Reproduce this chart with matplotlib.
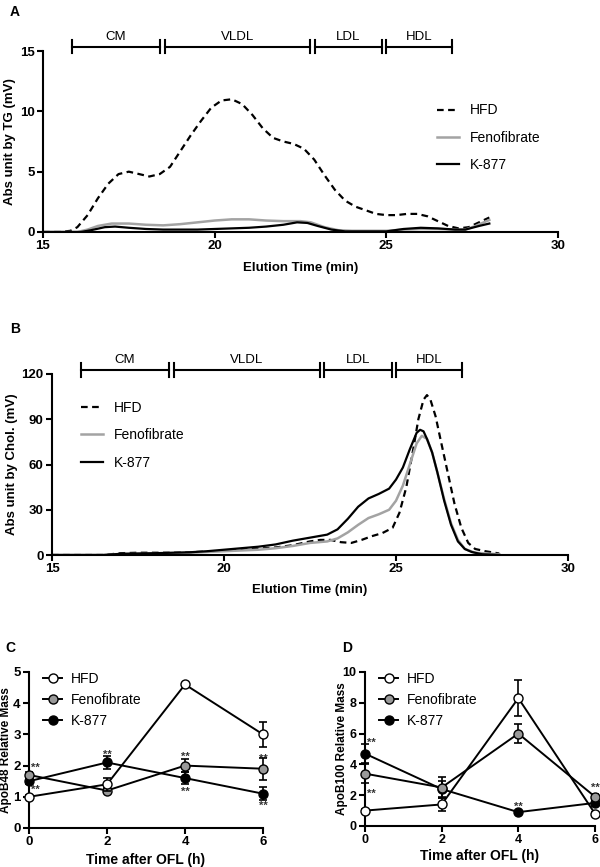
import numpy as np
import matplotlib
matplotlib.use('Agg')
import matplotlib.pyplot as plt

plt.rcParams['font.family'] = ['Liberation Sans', 'DejaVu Sans']
plt.rcParams['axes.linewidth'] = 1.5
plt.rcParams['xtick.major.width'] = 1.5
plt.rcParams['ytick.major.width'] = 1.5
plt.rcParams['xtick.major.size'] = 4
plt.rcParams['ytick.major.size'] = 4

GRAY = '#a3a3a3'

# ============================================================
# DATA - panel A (TG profile)
# ============================================================
a_hfd_t = [15.0, 15.5, 15.8, 16.0, 16.3, 16.6, 16.9, 17.2, 17.5, 17.8, 18.1, 18.4, 18.7,
           19.0, 19.3, 19.6, 19.9, 20.2, 20.5, 20.8, 21.1, 21.4, 21.7, 22.0, 22.3, 22.6,
           22.9, 23.2, 23.5, 23.8, 24.1, 24.4, 24.7, 25.0, 25.3, 25.6, 25.9, 26.2, 26.5,
           26.8, 27.1, 27.4, 27.7, 28.0]
a_hfd_v = [0, 0, 0.1, 0.4, 1.4, 2.8, 4.0, 4.8, 5.0, 4.8, 4.6, 4.8, 5.4,
           6.7, 8.0, 9.2, 10.3, 10.9, 11.0, 10.6, 9.7, 8.6, 7.8, 7.5, 7.3, 6.9,
           6.0, 4.7, 3.5, 2.6, 2.1, 1.8, 1.5, 1.4, 1.4, 1.5, 1.5, 1.3, 0.9,
           0.5, 0.3, 0.4, 0.8, 1.2]
a_feno_t = [15.0, 16.0, 16.3, 16.6, 17.0, 17.5, 18.0, 18.5, 19.0, 19.5, 20.0, 20.5, 21.0,
            21.5, 22.0, 22.5, 22.8, 23.2, 23.6, 24.0, 24.5, 25.0, 25.5, 26.0, 26.5, 27.0,
            27.3, 27.6, 28.0]
a_feno_v = [0, 0, 0.2, 0.5, 0.7, 0.7, 0.6, 0.55, 0.65, 0.8, 0.95, 1.05, 1.05,
            0.95, 0.9, 0.9, 0.8, 0.4, 0.15, 0.1, 0.1, 0.1, 0.2, 0.25, 0.25, 0.2,
            0.2, 0.5, 1.0]
a_k877_t = [15.0, 16.1, 16.4, 16.8, 17.1, 17.5, 18.0, 18.5, 19.0, 19.5, 20.0, 20.5, 21.0,
            21.5, 22.0, 22.4, 22.7, 23.0, 23.4, 23.8, 24.5, 25.0, 25.5, 26.0, 26.5, 27.0,
            27.3, 27.7, 28.0]
a_k877_v = [0, 0, 0.15, 0.4, 0.45, 0.35, 0.25, 0.2, 0.2, 0.2, 0.25, 0.3, 0.35,
            0.45, 0.6, 0.8, 0.75, 0.5, 0.2, 0.05, 0.05, 0.05, 0.25, 0.35, 0.3, 0.2,
            0.2, 0.5, 0.7]

# ============================================================
# DATA - panel B (cholesterol profile)
# ============================================================
b_hfd_t = [15.0, 16.5, 17.0, 17.5, 18.0, 18.5, 19.0, 19.5, 20.0, 20.5, 21.0, 21.5, 22.0,
           22.5, 22.8, 23.1, 23.4, 23.7, 24.0, 24.3, 24.6, 24.9, 25.1, 25.3, 25.5, 25.65,
           25.8, 25.9, 26.0, 26.15, 26.3, 26.5, 26.7, 26.9, 27.1, 27.3, 27.6, 28.0]
b_hfd_v = [0, 0, 1.2, 1.5, 1.5, 1.5, 1.8, 2.3, 3.0, 3.5, 4.2, 5.0, 6.5,
           9.0, 10.0, 10.0, 8.5, 8.0, 10.0, 12.5, 14.5, 18.0, 28, 45, 70, 90,
           103, 106, 103, 92, 76, 55, 34, 18, 8, 4, 2.5, 1.0]
b_feno_t = [15.0, 16.5, 17.0, 18.0, 19.0, 20.0, 21.0, 21.5, 22.0, 22.5, 23.0, 23.3, 23.6,
            23.9, 24.2, 24.5, 24.8, 25.0, 25.2, 25.4, 25.6, 25.75, 25.9, 26.05, 26.2, 26.4,
            26.6, 26.8, 27.0, 27.3, 27.6, 28.0]
b_feno_v = [0, 0, 0.6, 1.0, 1.5, 2.5, 3.5, 4.5, 6.0, 8.0, 9.0, 11, 15,
            20, 24.5, 27, 30, 36, 46, 60, 74, 79, 77, 68, 55, 37,
            21, 10, 4, 1.5, 1, 0.5]
b_k877_t = [15.0, 16.5, 17.0, 18.0, 19.0, 19.5, 20.0, 20.5, 21.0, 21.5, 22.0, 22.5, 23.0,
            23.3, 23.6, 23.9, 24.2, 24.5, 24.8, 25.0, 25.2, 25.4, 25.6, 25.7, 25.8, 25.9,
            26.05, 26.2, 26.4, 26.6, 26.8, 27.0, 27.2, 27.5, 28.0]
b_k877_v = [0, 0, 0.8, 1.2, 1.8, 2.5, 3.5, 4.5, 5.5, 7.0, 9.5, 11.5, 13.5,
            17, 24, 32, 37.5, 40.5, 44, 50, 58, 70, 81, 83, 82, 77,
            68, 55, 36, 20, 9, 4, 2, 0.5, 0]

fractions = ['CM', 'VLDL', 'LDL', 'HDL']
frac_start = [15.85, 18.55, 22.92, 25.0]
frac_end = [18.4, 22.78, 24.87, 26.92]

# ============================================================
# DATA - panels C and D (apoB48 / apoB100)
# ============================================================
hours = [0, 2, 4, 6]
c_hfd = [1.0, 1.4, 4.6, 3.0]
c_hfd_err = [0.05, 0.2, 0.05, 0.4]
c_feno = [1.7, 1.2, 2.0, 1.9]
c_feno_err = [0.1, 0.08, 0.2, 0.35]
c_k877 = [1.5, 2.1, 1.6, 1.1]
c_k877_err = [0.1, 0.2, 0.2, 0.2]
c_stars_x = [0.17, 0.17, 2, 4, 4, 6, 6]
c_stars_y = [1.93, 1.22, 2.36, 2.28, 1.15, 2.23, 0.72]

d_hfd = [1.0, 1.4, 8.3, 0.8]
d_hfd_err = [0.1, 0.4, 1.15, 0.1]
d_feno = [3.4, 2.5, 6.0, 1.9]
d_feno_err = [0.6, 0.7, 0.6, 0.2]
d_k877 = [4.7, 2.4, 0.9, 1.5]
d_k877_err = [0.6, 0.5, 0.1, 0.2]
d_stars_x = [0.17, 0.17, 4, 6]
d_stars_y = [5.4, 2.1, 1.25, 2.45]

# ============================================================
# FIGURE
# ============================================================
W, H = 600, 867
fig = plt.figure(figsize=(W / 100, H / 100), dpi=100)


def px_axes(l, r, t, b):
    return fig.add_axes([l / W, 1 - b / H, (r - l) / W, (b - t) / H])


def style(ax, fs):
    ax.spines['top'].set_visible(False)
    ax.spines['right'].set_visible(False)
    ax.tick_params(direction='out', labelsize=fs, pad=2)
    for lab in ax.get_xticklabels() + ax.get_yticklabels():
        lab.set_fontweight('bold')


def brackets(ax, ybar, half, gap):
    for name, s, e in zip(fractions, frac_start, frac_end):
        ax.plot([s, e], [ybar, ybar], color='black', lw=1.5, clip_on=False)
        ax.plot([s, s], [ybar - half, ybar + half], color='black', lw=1.5, clip_on=False)
        ax.plot([e, e], [ybar - half, ybar + half], color='black', lw=1.5, clip_on=False)
        ax.text((s + e) / 2, ybar + gap, name, ha='center', va='bottom', fontsize=9.5)


# ---------------- A ----------------
axA = px_axes(43, 558, 51, 232)
axA.plot(a_hfd_t, a_hfd_v, color='black', lw=1.6, ls=(0, (3, 2)), label='HFD')
axA.plot(a_feno_t, a_feno_v, color=GRAY, lw=1.8, label='Fenofibrate')
axA.plot(a_k877_t, a_k877_v, color='black', lw=1.6, label='K-877')
axA.set_xlim(15, 30)
axA.set_ylim(0, 15)
axA.set_xticks([15, 20, 25, 30])
axA.set_yticks([0, 5, 10, 15])
axA.set_xlabel('Elution Time (min)', fontsize=9.5, fontweight='bold')
axA.set_ylabel('Abs unit by TG (mV)', fontsize=9.5, fontweight='bold')
axA.yaxis.set_label_coords(-0.052, 0.5)
axA.xaxis.set_label_coords(0.5, -0.166)
style(axA, 9.5)
brackets(axA, 15.35, 0.55, 0.35)
axA.legend(loc='upper left', bbox_to_anchor=(0.765, 0.71), frameon=False, fontsize=10,
           handlelength=1.6, labelspacing=0.95, borderaxespad=0, borderpad=0, handletextpad=0.8)

# ---------------- B ----------------
axB = px_axes(52, 568, 374, 555)
axB.plot(b_hfd_t, b_hfd_v, color='black', lw=1.6, ls=(0, (3, 2)), label='HFD')
axB.plot(b_feno_t, b_feno_v, color=GRAY, lw=1.8, label='Fenofibrate')
axB.plot(b_k877_t, b_k877_v, color='black', lw=1.6, label='K-877')
axB.set_xlim(15, 30)
axB.set_ylim(0, 120)
axB.set_xticks([15, 20, 25, 30])
axB.set_yticks([0, 30, 60, 90, 120])
axB.set_xlabel('Elution Time (min)', fontsize=9.5, fontweight='bold')
axB.set_ylabel('Abs unit by Chol. (mV)', fontsize=9.5, fontweight='bold')
axB.yaxis.set_label_coords(-0.066, 0.5)
axB.xaxis.set_label_coords(0.5, -0.16)
style(axB, 9.5)
brackets(axB, 122.5, 4.5, 2.8)
axB.legend(loc='upper left', bbox_to_anchor=(0.056, 0.85), frameon=False, fontsize=10,
           handlelength=1.6, labelspacing=0.95, borderaxespad=0, borderpad=0, handletextpad=0.8)


# ---------------- C / D ----------------
def apo_panel(ax, hfd, hfd_e, feno, feno_e, k877, k877_e, sx, sy):
    for vals, err, fc, lab, z in [(hfd, hfd_e, 'white', 'HFD', 5),
                                  (feno, feno_e, '#999999', 'Fenofibrate', 4),
                                  (k877, k877_e, 'black', 'K-877', 3)]:
        ax.errorbar(hours, vals, yerr=err, fmt='none', ecolor='black', capsize=3,
                    elinewidth=1.2, capthick=1.2, zorder=z - 0.5, clip_on=False)
        ax.plot(hours, vals, color='black', lw=1.4, marker='o', ms=6.5,
                mfc=fc, mec='black', mew=1.0, label=lab, zorder=z, clip_on=False)
    for x, y in zip(sx, sy):
        ax.text(x, y, '**', ha='center', va='center', fontsize=8, color='#333333',
                fontweight='bold', clip_on=False)
    ax.set_xlim(0, 6)
    ax.set_xticks(hours)
    ax.set_xlabel('Time after OFL (h)', fontsize=10, fontweight='bold')
    ax.legend(loc='upper left', bbox_to_anchor=(0.06, 1.0), frameon=False, fontsize=10,
              handlelength=1.4, labelspacing=0.5, borderaxespad=0, borderpad=0,
              handletextpad=0.6)


axC = px_axes(29, 263, 672, 828)
apo_panel(axC, c_hfd, c_hfd_err, c_feno, c_feno_err, c_k877, c_k877_err, c_stars_x, c_stars_y)
axC.set_ylim(0, 5)
axC.set_yticks([0, 1, 2, 3, 4, 5])
axC.set_ylabel('ApoB48 Relative Mass', fontsize=8.5, fontweight='bold')
axC.yaxis.set_label_coords(-0.072, 0.5)
axC.xaxis.set_label_coords(0.5, -0.16)
style(axC, 9.5)

axD = px_axes(365, 595, 672, 826)
apo_panel(axD, d_hfd, d_hfd_err, d_feno, d_feno_err, d_k877, d_k877_err, d_stars_x, d_stars_y)
axD.set_ylim(0, 10)
axD.set_yticks([0, 2, 4, 6, 8, 10])
axD.set_ylabel('ApoB100 Relative Mass', fontsize=8.5, fontweight='bold')
axD.yaxis.set_label_coords(-0.075, 0.5)
axD.xaxis.set_label_coords(0.5, -0.15)
style(axD, 9)

# panel letters
for lab, x, y in [('A', 15, 12), ('B', 15, 329), ('C', 10, 648), ('D', 347, 648)]:
    fig.text(x / W, 1 - y / H, lab, fontsize=10, fontweight='bold', ha='center', va='center')

fig.savefig('out.png', dpi=100)
